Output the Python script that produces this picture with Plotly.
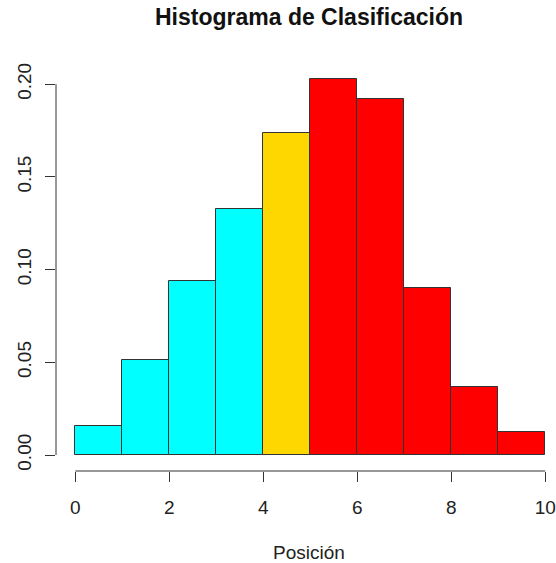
import plotly.graph_objects as go

# Data
breaks = [0, 1, 2, 3, 4, 5, 6, 7, 8, 9, 10]
density = [0.0156, 0.0512, 0.0940, 0.1329, 0.1738, 0.2028, 0.1918, 0.0899, 0.0368, 0.0122]
bar_colors = ["#00FFFF", "#00FFFF", "#00FFFF", "#00FFFF", "#FFD700",
              "#FF0000", "#FF0000", "#FF0000", "#FF0000", "#FF0000"]
x_ticks = [0, 2, 4, 6, 8, 10]
y_ticks = [0.00, 0.05, 0.10, 0.15, 0.20]

mids = [(breaks[i] + breaks[i + 1]) / 2 for i in range(len(density))]
widths = [breaks[i + 1] - breaks[i] for i in range(len(density))]

FONT = "Liberation Sans, Arial, sans-serif"
W, H = 556, 563
L, R, T, B = 56, 0, 64, 92

fig = go.Figure(go.Bar(
    x=mids, y=density, width=widths,
    marker=dict(color=bar_colors, line=dict(color="#333333", width=1)),
    hoverinfo="skip",
))

fig.update_layout(
    width=W, height=H,
    margin=dict(l=L, r=R, t=T, b=B),
    plot_bgcolor="white", paper_bgcolor="white",
    showlegend=False,
    bargap=0,
    font=dict(family=FONT, size=19, color="#222222"),
    title=dict(text="<b>Histograma de Clasificación</b>", xref="container", x=309 / W,
               xanchor="center", yref="container", y=1 - 17 / H, yanchor="middle",
               font=dict(family=FONT, size=23, color="#111111")),
    xaxis=dict(range=[-0.41, 10.23], tickvals=x_ticks, ticktext=[str(v) for v in x_ticks],
               ticks="outside", ticklen=10, tickcolor="#333333", tickwidth=1,
               showgrid=False, zeroline=False, showline=False,
               ticklabelstandoff=9, tickfont=dict(size=19)),
    yaxis=dict(range=[-0.0086, 0.2109], tickvals=y_ticks, tickformat=".2f",
               ticks="outside", ticklen=10, tickcolor="#333333", tickwidth=1,
               showgrid=False, zeroline=False, showline=False, tickangle=-90,
               ticklabelstandoff=6, tickfont=dict(size=19)),
    shapes=[
        dict(type="line", xref="x", yref="paper", x0=x_ticks[0], x1=x_ticks[-1], y0=0, y1=0,
             line=dict(color="#333333", width=1)),
        dict(type="line", xref="paper", yref="y", x0=0, x1=0, y0=y_ticks[0], y1=y_ticks[-1],
             line=dict(color="#333333", width=1)),
    ],
    annotations=[
        dict(text="Posición", xref="paper", yref="paper", x=(309 - L) / (W - L - R),
             y=(471 - 552) / (H - T - B), xanchor="center", yanchor="middle",
             showarrow=False, font=dict(family=FONT, size=19, color="#222222")),
    ],
)

fig.write_html("out.html", config={"displayModeBar": False},
               post_script="document.body.style.margin='0px';document.body.style.overflow='hidden';")
